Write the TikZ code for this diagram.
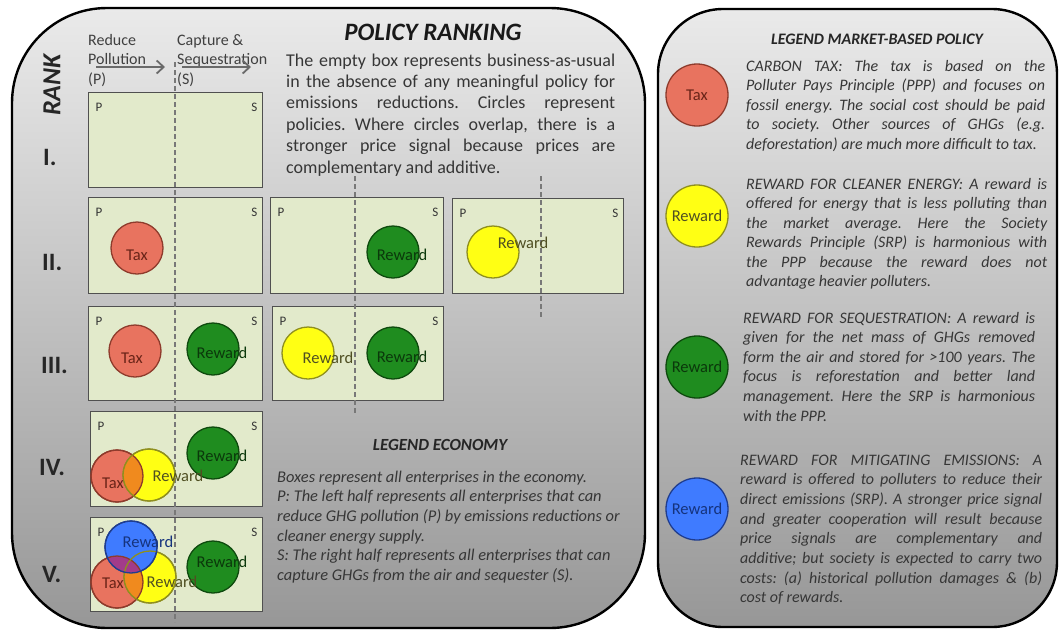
\documentclass[tikz,border=0pt]{standalone}
\usepackage{fontspec}
\setmainfont{Carlito}
\usetikzlibrary{arrows.meta}
\frenchspacing

\definecolor{panTop}{HTML}{EAEAEA}
\definecolor{panBot}{HTML}{979797}
\definecolor{boxFill}{HTML}{E2EACB}
\definecolor{boxLine}{HTML}{505050}
\definecolor{taxFill}{HTML}{E8735F}
\definecolor{taxLine}{HTML}{8E3B2C}
\definecolor{taxText}{HTML}{6A2418}
\definecolor{yelFill}{HTML}{FFFF14}
\definecolor{yelLine}{HTML}{8F8F1E}
\definecolor{yelText}{HTML}{4F4F22}
\definecolor{grnFill}{HTML}{1F8C1F}
\definecolor{grnLine}{HTML}{0E4A0E}
\definecolor{grnText}{HTML}{0B380B}
\definecolor{bluFill}{HTML}{3F7BFF}
\definecolor{bluLine}{HTML}{1F3D8F}
\definecolor{bluText}{HTML}{15337D}
\definecolor{ovOrange}{HTML}{F08A1E}
\definecolor{ovPurple}{HTML}{A23B8A}
\definecolor{txt}{HTML}{363636}
\definecolor{dashCol}{HTML}{787878}
\definecolor{arrCol}{HTML}{6A6A6A}

% justified line of fixed width / ragged line
\newlength\JW
\newcommand\JL[1]{\hbox to \JW{#1}}
\newcommand\RL[1]{\hbox{#1}}
\newcommand\fsz[2]{\fontsize{#1pt}{#2pt}\selectfont}

\begin{document}
\begin{tikzpicture}[x=1pt,y=-1pt,
  panel/.style={draw=black, line width=2.4pt, top color=panTop, bottom color=panBot},
  pbox/.style={draw=boxLine, fill=boxFill, line width=1.4pt, anchor=north west, inner sep=0pt},
  dashline/.style={draw=dashCol, line width=1.1pt, dash pattern=on 5pt off 3pt},
  circ/.style={circle, inner sep=0pt, minimum size=52pt, line width=1.3pt},
  bigcirc/.style={circle, inner sep=0pt, minimum size=62pt, line width=1.3pt},
  taxc/.style={circ, fill=taxFill, draw=taxLine},
  yelc/.style={circ, fill=yelFill, draw=yelLine},
  grnc/.style={circ, fill=grnFill, draw=grnLine},
  bluc/.style={circ, fill=bluFill, draw=bluLine},
  lbl/.style={inner sep=0pt, font=\fsz{16.5}{19}},
  corner/.style={inner sep=0pt, font=\fsz{13}{15}, text=txt},
  rankno/.style={inner sep=0pt, anchor=west, font=\fsz{25}{28}\bfseries, text=black!85},
  txtblk/.style={inner sep=0pt, anchor=base west, text=txt},
  arr/.style={draw=arrCol, line width=1.8pt, -{Straight Barb[length=7pt,width=13pt,line width=1.8pt]}}
]
\useasboundingbox (0,0) rectangle (1061,630);
\fill[white] (0,0) rectangle (1061,630);

% ---------- panels ----------
\path[panel, rounded corners=95pt] (12,8) rectangle (645,628);
\path[panel, rounded corners=65pt] (658,9) rectangle (1057,627);

% ---------- headings ----------
\node[inner sep=0pt, rotate=90, font=\fsz{26}{30}\bfseries\itshape, text=black!85] (rank) at (52,85) {RANK};
\node[inner sep=0pt, font=\fsz{25}{30}\bfseries\itshape, text=black!90] (title) at (433,32) {POLICY RANKING};

\node[txtblk, text=black!75] (hdP) at (88,45) {\vtop{\fsz{16}{19.5}\RL{Reduce}\RL{Pollution}\RL{(P)}}};
\node[txtblk, text=black!75] (hdS) at (177,45) {\vtop{\fsz{16}{19.5}\RL{Capture \&}\RL{Sequestration}\RL{(S)}}};
\coordinate (a1s) at (96,67);  \coordinate (a1e) at (165,67);
\coordinate (a2s) at (182,67); \coordinate (a2e) at (251,67);
\draw[arr] (a1s) -- (a1e);
\draw[arr] (a2s) -- (a2e);

\node[txtblk] (intro) at (286,66) {\vtop{\JW=329pt\fsz{18}{21.4}%
 \JL{The empty box represents business-as-usual}
 \JL{in the absence of any meaningful policy for}
 \JL{emissions reductions. Circles represent}
 \JL{policies. Where circles overlap, there is a}
 \JL{stronger price signal because prices are}
 \RL{complementary and additive.}}};

% ---------- rank labels ----------
\node[rankno] (r1) at (43,157) {I.};
\node[rankno] (r2) at (42,262) {II.};
\node[rankno] (r3) at (41,365) {III.};
\node[rankno] (r4) at (39,467) {IV.};
\node[rankno] (r5) at (42,574) {V.};

% ---------- economy boxes ----------
\node[pbox, minimum width=174pt, minimum height=95pt] (b1)  at (88,92)  {};
\node[pbox, minimum width=174pt, minimum height=96pt] (b2a) at (88,197) {};
\node[pbox, minimum width=173pt, minimum height=96pt] (b2b) at (270,197) {};
\node[pbox, minimum width=171pt, minimum height=95pt] (b2c) at (452,198) {};
\node[pbox, minimum width=174pt, minimum height=94pt] (b3a) at (88,306) {};
\node[pbox, minimum width=171pt, minimum height=94pt] (b3b) at (272,306) {};
\node[pbox, minimum width=172pt, minimum height=95pt] (b4)  at (90,411) {};
\node[pbox, minimum width=172pt, minimum height=94pt] (b5)  at (90,517) {};

\foreach \b in {b1,b2a,b2b,b2c,b3a,b3b,b4,b5}{
  \node[corner] at ([xshift=11pt,yshift=-15pt]\b.north west) {P};
  \node[corner] at ([xshift=-9pt,yshift=-15pt]\b.north east) {S};
}

% ---------- P / S dividers ----------
\coordinate (d1t) at (175,62);  \coordinate (d1b) at (175,622);
\coordinate (d2t) at (355,176); \coordinate (d2b) at (355,413);
\coordinate (d3t) at (541,176); \coordinate (d3b) at (541,318);
\draw[dashline] (d1t) -- (d1b);
\draw[dashline] (d2t) -- (d2b);
\draw[dashline] (d3t) -- (d3b);

% ---------- rank II ----------
\node[taxc] (t2) at (137,248) {};
\node[grnc] (g2) at (393,252) {};
\node[yelc] (y2) at (493,252) {};
\node[lbl, text=taxText] (t2l) at (137,255) {Tax};
\node[lbl, text=grnText] (g2l) at (402,255) {Reward};
\node[lbl, text=yelText] (y2l) at (523,243) {Reward};

% ---------- rank III ----------
\node[taxc] (t3) at (135,351) {};
\node[grnc] (g3a) at (213,349) {};
\node[yelc] (y3) at (308,353) {};
\node[grnc] (g3b) at (393,353) {};
\node[lbl, text=taxText] (t3l) at (132,358) {Tax};
\node[lbl, text=grnText] (g3al) at (222,353) {Reward};
\node[lbl, text=yelText] (y3l) at (328,358) {Reward};
\node[lbl, text=grnText] (g3bl) at (402,357) {Reward};

% ---------- rank IV ----------
\node[grnc] (g4) at (213,453) {};
\node[taxc] (t4) at (117,476) {};
\node[yelc] (y4) at (149,475) {};
\begin{scope}
  \clip (t4.center) circle[radius=26pt];
  \fill[ovOrange] (y4.center) circle[radius=26pt];
\end{scope}
\draw[taxLine, line width=1.3pt] (t4.center) circle[radius=26pt];
\draw[yelLine, line width=1.3pt] (y4.center) circle[radius=26pt];
\node[lbl, text=taxText] (t4l) at (113,483) {Tax};
\node[lbl, text=yelText] (y4l) at (178,476) {Reward};
\node[lbl, text=grnText] (g4l) at (222,456) {Reward};

% ---------- rank V ----------
\node[grnc] (g5) at (213,567) {};
\node[taxc] (t5) at (117,582) {};
\node[yelc] (y5) at (150,577) {};
\node[bluc] (u5) at (131,547) {};
\begin{scope}
  \clip (t5.center) circle[radius=26pt];
  \fill[ovOrange] (y5.center) circle[radius=26pt];
  \fill[ovPurple] (u5.center) circle[radius=26pt];
\end{scope}
\draw[taxLine, line width=1.3pt] (t5.center) circle[radius=26pt];
\draw[yelLine, line width=1.3pt] (y5.center) circle[radius=26pt];
\draw[bluLine, line width=1.3pt] (u5.center) circle[radius=26pt];
\node[lbl, text=bluText] (u5l) at (148,542) {Reward};
\node[lbl, text=taxText] (t5l) at (113,583) {Tax};
\node[lbl, text=yelText] (y5l) at (172,582) {Reward};
\node[lbl, text=grnText] (g5l) at (222,562) {Reward};

% ---------- legend economy ----------
\node[inner sep=0pt, font=\fsz{17}{20}\bfseries\itshape, text=black!85] (ecoh) at (440,445) {LEGEND ECONOMY};
\node[txtblk] (eco) at (277,482) {\vtop{\fsz{16.4}{19.7}\itshape
 \RL{Boxes represent all enterprises in the economy.}
 \RL{P: The left half represents all enterprises that can}
 \RL{reduce GHG pollution (P) by emissions reductions or}
 \RL{cleaner energy supply.}
 \RL{S: The right half represents all enterprises that can}
 \RL{capture GHGs from the air and sequester (S).}}};

% ---------- legend market-based policy ----------
\node[inner sep=0pt, font=\fsz{16}{19}\bfseries\itshape, text=black!85] (mkth) at (877,39) {LEGEND MARKET-BASED POLICY};

\node[bigcirc, fill=taxFill, draw=taxLine] (lt) at (697,95) {};
\node[bigcirc, fill=yelFill, draw=yelLine] (ly) at (697,216) {};
\node[bigcirc, fill=grnFill, draw=grnLine] (lg) at (697,367) {};
\node[bigcirc, fill=bluFill, draw=bluLine] (lb) at (697,509) {};
\node[lbl, text=taxText] (ltl) at (lt) {Tax};
\node[lbl, text=yelText] (lyl) at (ly) {Reward};
\node[lbl, text=grnText] (lgl) at (lg) {Reward};
\node[lbl, text=bluText] (lbl) at (lb) {Reward};

\node[txtblk] (m1) at (746,71) {\vtop{\JW=299pt\fsz{16}{19.5}\itshape
 \JL{CARBON TAX: The tax is based on the}
 \JL{Polluter Pays Principle (PPP) and focuses on}
 \JL{fossil energy. The social cost should be paid}
 \JL{to society. Other sources of GHGs (e.g.}
 \RL{deforestation) are much more difficult to tax.}}};

\node[txtblk] (m2) at (746,189) {\vtop{\JW=301pt\fsz{16}{19.5}\itshape
 \JL{REWARD FOR CLEANER ENERGY: A reward is}
 \JL{offered for energy that is less polluting than}
 \JL{the market average. Here the Society}
 \JL{Rewards Principle (SRP) is harmonious with}
 \JL{the PPP because the reward does not}
 \RL{advantage heavier polluters.}}};

\node[txtblk] (m3) at (743,323) {\vtop{\JW=292pt\fsz{16}{19.6}\itshape
 \JL{REWARD FOR SEQUESTRATION: A reward is}
 \JL{given for the net mass of GHGs removed}
 \JL{form the air and stored for >100 years. The}
 \JL{focus is reforestation and better land}
 \JL{management. Here the SRP is harmonious}
 \RL{with the PPP.}}};

\node[txtblk] (m4) at (740,465) {\vtop{\JW=302pt\fsz{16}{19.7}\itshape
 \JL{REWARD FOR MITIGATING EMISSIONS: A}
 \JL{reward is offered to polluters to reduce their}
 \JL{direct emissions (SRP). A stronger price signal}
 \JL{and greater cooperation will result because}
 \JL{price signals are complementary and}
 \JL{additive; but society is expected to carry two}
 \JL{costs: (a) historical pollution damages \& (b)}
 \RL{cost of rewards.}}};
\end{tikzpicture}
\end{document}
